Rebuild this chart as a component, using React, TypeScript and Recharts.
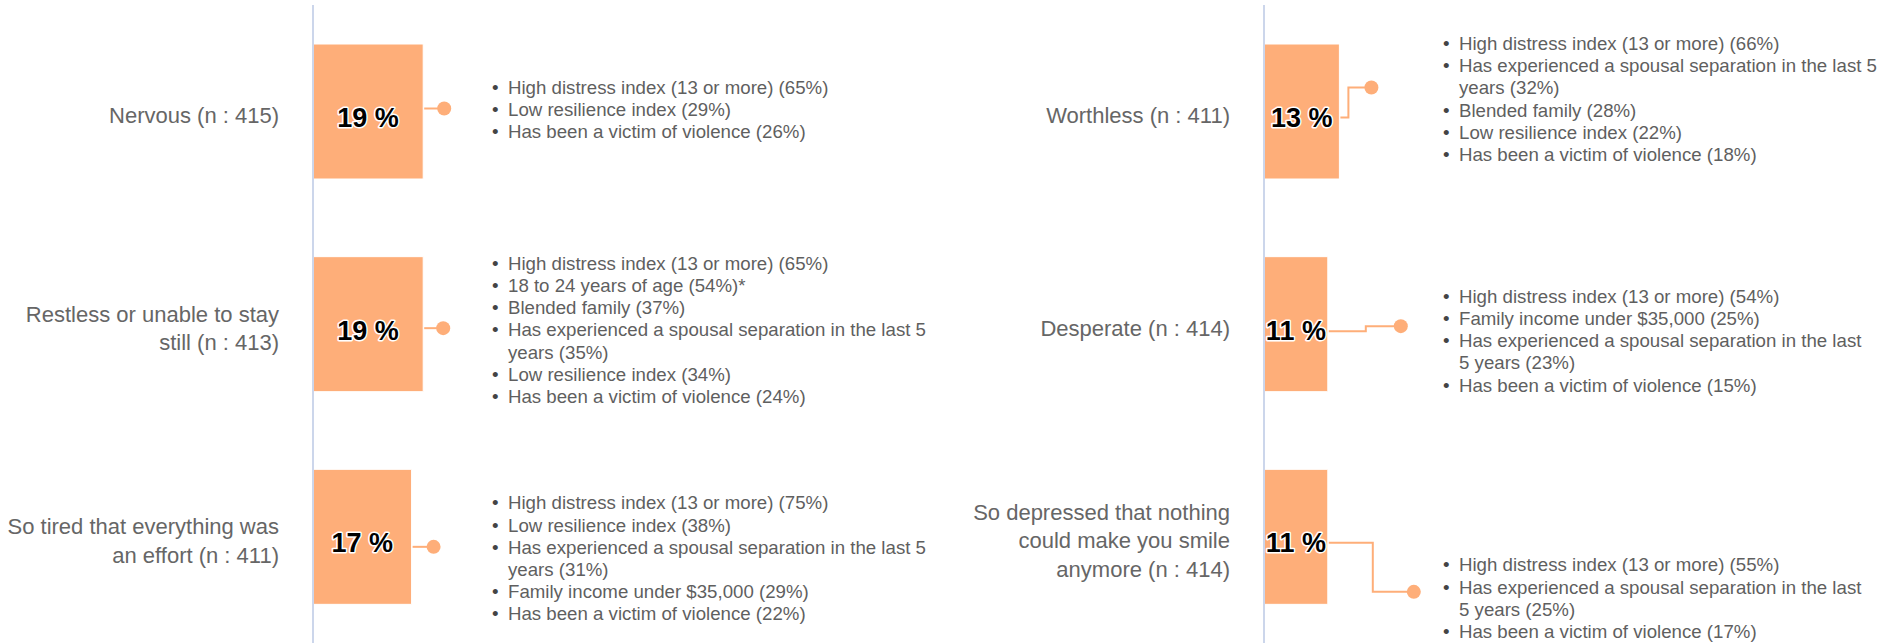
import React from 'react';
import { BarChart, Bar, XAxis, YAxis, LabelList } from 'recharts';

// Left column
const leftCategories = [
    'Nervous (n : 415)',
    'Restless or unable to stay\nstill (n : 413)',
    'So tired that everything was\nan effort (n : 411)',
];
const leftValues = [19, 19, 17];
const leftNotes = [
    ['High distress index (13 or more) (65%)', 'Low resilience index (29%)', 'Has been a victim of violence (26%)'],
    [
        'High distress index (13 or more) (65%)',
        '18 to 24 years of age (54%)*',
        'Blended family (37%)',
        'Has experienced a spousal separation in the last 5\nyears (35%)',
        'Low resilience index (34%)',
        'Has been a victim of violence (24%)',
    ],
    [
        'High distress index (13 or more) (75%)',
        'Low resilience index (38%)',
        'Has experienced a spousal separation in the last 5\nyears (31%)',
        'Family income under $35,000 (29%)',
        'Has been a victim of violence (22%)',
    ],
];

// Right column
const rightCategories = [
    'Worthless (n : 411)',
    'Desperate (n : 414)',
    'So depressed that nothing\ncould make you smile\nanymore (n : 414)',
];
const rightValues = [13, 11, 11];
const rightNotes = [
    [
        'High distress index (13 or more) (66%)',
        'Has experienced a spousal separation in the last 5\nyears (32%)',
        'Blended family (28%)',
        'Low resilience index (22%)',
        'Has been a victim of violence (18%)',
    ],
    [
        'High distress index (13 or more) (54%)',
        'Family income under $35,000 (25%)',
        'Has experienced a spousal separation in the last\n5 years (23%)',
        'Has been a victim of violence (15%)',
    ],
    [
        'High distress index (13 or more) (55%)',
        'Has experienced a spousal separation in the last\n5 years (25%)',
        'Has been a victim of violence (17%)',
    ],
];

// callout placement, relative to the bar end / bar centre
const leftCallouts = [
    { startDy: -3, elbowDx: 10, dotDx: 21, dotDy: -3, textDy: -24 },
    { startDy: 4, elbowDx: 10, dotDx: 20, dotDy: 4, textDy: -61 },
    { startDy: 10, elbowDx: 10, dotDx: 22, dotDy: 10, textDy: -34 },
];
const rightCallouts = [
    { startDy: 6, elbowDx: 9, dotDx: 32, dotDy: -24, textDy: -68 },
    { startDy: 7, elbowDx: 38, dotDx: 73, dotDy: 2, textDy: -28 },
    { startDy: 6, elbowDx: 45, dotDx: 86, dotDy: 55, textDy: 28 },
];

const FONT = '"Liberation Sans", Arial, sans-serif';
const BAR_COLOR = '#feae79';
const TEXT_COLOR = '#5f5f5f';

const CategoryTick = (props: any) => {
    const { x, y, payload } = props;
    const lines = String(payload.value).split('\n');
    const lh = 28.3;
    const top = y + 4 - ((lines.length - 1) * lh) / 2;
    return (
        <text x={x} y={top} textAnchor="end" fontSize={22} fontFamily={FONT} fill="#666666">
            {lines.map((l, i) => (
                <tspan key={i} x={x} y={top + i * lh} dy="0.35em">{l}</tspan>
            ))}
        </text>
    );
};

const ValueLabel = (props: any) => {
    const vb = props.viewBox || props;
    const cx = vb.x + vb.width / 2;
    const cy = vb.y + vb.height / 2 + 6;
    return (
        <text x={cx} y={cy} dy="0.35em" textAnchor="middle" fontSize={27} fontWeight="bold" fontFamily={FONT}
            fill="#000" stroke="#fff" strokeWidth={3} strokeLinejoin="round" style={{ paintOrder: 'stroke' }}>
            {`${props.value} %`}
        </text>
    );
};

const Callout = (props: any) => {
    const { notes, callouts, index } = props;
    const vb = props.viewBox || props;
    const c = callouts[index];
    const end = vb.x + vb.width;
    const cy = vb.y + vb.height / 2;
    const path = `M${end + 1},${cy + c.startDy} H${end + c.elbowDx} V${cy + c.dotDy} H${end + c.dotDx}`;
    const lines: { text: string; bullet: boolean }[] = [];
    notes[index].forEach((n: string) => {
        n.split('\n').forEach((t, k) => lines.push({ text: t, bullet: k === 0 }));
    });
    const bx = vb.x + 179;
    const tx = vb.x + 195;
    return (
        <g>
            <path d={path} stroke={BAR_COLOR} strokeWidth={2} fill="none" />
            <circle cx={end + c.dotDx} cy={cy + c.dotDy} r={7} fill={BAR_COLOR} />
            {lines.map((l, i) => {
                const ly = cy + c.textDy + i * 22.2;
                return (
                    <g key={i}>
                        {l.bullet && (
                            <text x={bx} y={ly} dy="0.35em" fontSize={18.67} fontFamily={FONT} fill="#444">•</text>
                        )}
                        <text x={tx} y={ly} dy="0.35em" fontSize={18.67} fontFamily={FONT} fill={TEXT_COLOR}>{l.text}</text>
                    </g>
                );
            })}
        </g>
    );
};

interface PanelProps {
    categories: string[];
    values: number[];
    notes: string[][];
    callouts: typeof leftCallouts;
    left: number;
    width: number;
    axisWidth: number;
}

const Panel: React.FC<PanelProps> = ({ categories, values, notes, callouts, left, width, axisWidth }) => {
    const data = categories.map((category, i) => ({ category, value: values[i] }));
    return (
        <div style={{ position: 'absolute', left, top: 0 }}>
            <BarChart
                width={width}
                height={643}
                data={data}
                layout="vertical"
                margin={{ top: 5, right: width - axisWidth - 580, bottom: 0, left: 0 }}
            >
                <XAxis type="number" domain={[0, 100]} hide />
                <YAxis
                    type="category"
                    dataKey="category"
                    width={axisWidth}
                    axisLine={{ stroke: '#ccd6eb', strokeWidth: 2 }}
                    tickLine={false}
                    tickSize={0}
                    tickMargin={34}
                    interval={0}
                    tick={<CategoryTick />}
                />
                <Bar dataKey="value" fill={BAR_COLOR} stroke="#fff" strokeWidth={1} barSize={135} isAnimationActive={false}>
                    <LabelList dataKey="value" content={<ValueLabel />} />
                    <LabelList dataKey="value" content={(p: any) => <Callout {...p} notes={notes} callouts={callouts} />} />
                </Bar>
            </BarChart>
        </div>
    );
};

const App = () => {
    return (
        <div style={{ position: 'absolute', left: 0, top: 0, width: 1893, height: 643, overflow: 'hidden', background: '#fff' }}>
            <Panel categories={leftCategories} values={leftValues} notes={leftNotes} callouts={leftCallouts}
                left={0} width={946} axisWidth={313} />
            <Panel categories={rightCategories} values={rightValues} notes={rightNotes} callouts={rightCallouts}
                left={946} width={947} axisWidth={318} />
        </div>
    );
};

export default App;
